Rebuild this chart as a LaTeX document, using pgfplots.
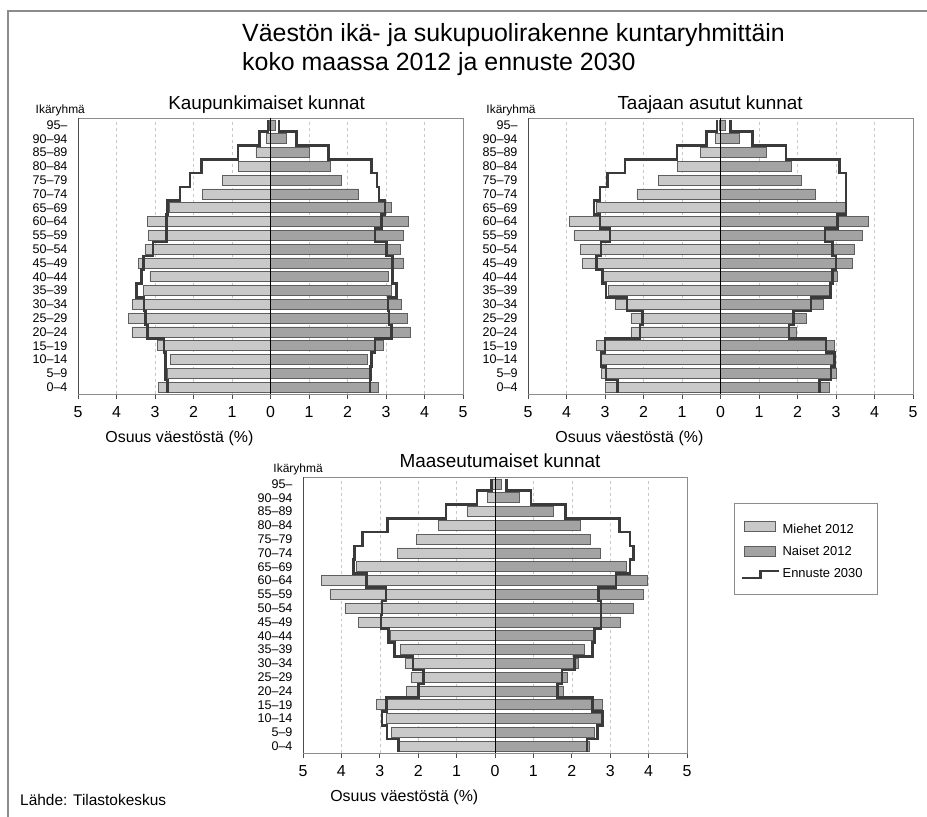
\documentclass[border=0pt]{standalone}
\usepackage{fontspec}
\setmainfont{Liberation Sans}
\usepackage{pgfplots}
\pgfplotsset{compat=1.18}
\usepackage{pgfplotstable}

\definecolor{mencol}{HTML}{C9C9C9}
\definecolor{womcol}{HTML}{A3A3A3}
\definecolor{barline}{HTML}{5E5E5E}
\definecolor{linecol}{HTML}{3A3A3A}
\definecolor{framecol}{HTML}{8C8C8C}

% i = age group index, m = men 2012, f = women 2012, em/ef = forecast 2030, lo = lower edge of the step
\pgfplotstableread{
i m f em ef lo
0 2.92 2.79 2.67 2.58 -0.40
1 2.68 2.58 2.72 2.60 0.5
2 2.61 2.51 2.72 2.62 1.5
3 2.94 2.92 2.77 2.71 2.5
4 3.60 3.62 3.20 3.14 3.5
5 3.69 3.55 3.24 3.08 4.5
6 3.59 3.40 3.29 3.05 5.5
7 3.30 3.14 3.48 3.27 6.5
8 3.13 3.05 3.35 3.17 7.5
9 3.43 3.46 3.30 3.17 8.5
10 3.26 3.38 3.05 3.01 9.5
11 3.17 3.46 2.70 2.71 10.5
12 3.20 3.57 2.70 2.88 11.5
13 2.62 3.14 2.67 2.97 12.5
14 1.76 2.28 2.35 2.82 13.5
15 1.25 1.84 2.09 2.77 14.5
16 0.84 1.56 1.79 2.62 15.5
17 0.38 1.00 0.84 1.50 16.5
18 0.10 0.42 0.28 0.67 17.5
19 0.03 0.12 0.06 0.22 18.5
20 nan nan 0.06 0.22 19.35
}\dataA

\pgfplotstableread{
i m f em ef lo
0 3.00 2.83 2.67 2.57 -0.40
1 3.09 3.00 2.97 2.87 0.5
2 3.13 2.98 3.10 2.96 1.5
3 3.23 2.96 3.00 2.74 2.5
4 2.33 1.96 2.09 1.78 3.5
5 2.33 2.22 2.02 1.90 4.5
6 2.72 2.67 2.43 2.35 5.5
7 2.91 2.83 2.97 2.85 6.5
8 3.04 3.04 3.06 2.91 7.5
9 3.59 3.43 3.22 3.00 8.5
10 3.63 3.48 3.10 2.91 9.5
11 3.81 3.67 2.87 2.71 10.5
12 3.93 3.84 3.13 3.04 11.5
13 3.22 3.26 3.29 3.26 12.5
14 2.17 2.45 3.13 3.26 13.5
15 1.61 2.09 2.94 3.26 14.5
16 1.11 1.84 2.48 3.09 15.5
17 0.52 1.20 1.13 1.70 16.5
18 0.13 0.50 0.37 0.83 17.5
19 0.04 0.13 0.09 0.26 18.5
20 nan nan 0.09 0.26 19.35
}\dataB

\pgfplotstableread{
i m f em ef lo
0 2.53 2.46 2.51 2.40 -0.40
1 2.69 2.59 2.81 2.67 0.5
2 2.84 2.79 2.94 2.80 1.5
3 3.08 2.79 2.82 2.54 2.5
4 2.30 1.79 1.99 1.63 3.5
5 2.19 1.89 1.86 1.74 4.5
6 2.34 2.18 2.14 2.07 5.5
7 2.47 2.33 2.62 2.54 6.5
8 2.73 2.59 2.77 2.59 7.5
9 3.55 3.26 2.97 2.76 8.5
10 3.91 3.59 2.94 2.76 9.5
11 4.30 3.85 2.84 2.70 10.5
12 4.52 3.96 3.34 3.15 11.5
13 3.62 3.41 3.69 3.52 12.5
14 2.55 2.74 3.66 3.60 13.5
15 2.04 2.48 3.45 3.52 14.5
16 1.47 2.21 2.80 3.24 15.5
17 0.73 1.52 1.28 1.83 16.5
18 0.19 0.62 0.47 0.94 17.5
19 0.06 0.16 0.09 0.30 18.5
20 nan nan 0.09 0.30 19.35
}\dataC

\pgfplotsset{
  pyr/.style={
    scale only axis, width=385bp, height=276bp,
    xmin=-5, xmax=5, ymin=-0.5, ymax=19.5,
    xtick={-5,...,5}, xticklabels={5,4,3,2,1,0,1,2,3,4,5},
    ytick={0,...,19},
    yticklabels={0--4,5--9,10--14,15--19,20--24,25--29,30--34,35--39,40--44,45--49,50--54,55--59,60--64,65--69,70--74,75--79,80--84,85--89,90--94,95--},
    xtick pos=left, tick align=outside, major tick length=5bp,
    ytick style={draw=none},
    xtick style={draw=black!70, line width=0.8bp},
    xmajorgrids, major grid style={dashed, black!22, line width=0.5bp},
    axis line style={draw=framecol, line width=0.8bp},
    /pgf/number format/assume math mode=true,
    xticklabel style={font=\fontsize{16}{18}\selectfont, yshift=-4bp},
    yticklabel style={font=\fontsize{12.6}{14}\selectfont, xshift=-2bp},
    xlabel={Osuus väestöstä (\%)},
    xlabel style={at={(axis description cs:0.062,-0.16)}, anchor=west, font=\fontsize{16}{18}\selectfont},
    ylabel={Ikäryhmä},
    ylabel style={rotate=-90, anchor=west, font=\fontsize{12}{14}\selectfont},
    title style={anchor=base, yshift=-6pt, font=\fontsize{19}{22}\selectfont},
  },
  menbar/.style={xbar, bar width=0.72, bar shift=0pt, fill=mencol, draw=barline, line width=0.6bp},
  wombar/.style={xbar, bar width=0.72, bar shift=0pt, fill=womcol, draw=barline, line width=0.6bp},
  steps/.style={const plot mark right, linecol, line width=2.6bp, line join=miter},
}

\begin{document}
\begin{tikzpicture}
\useasboundingbox (0,0) rectangle (927bp,817bp);
\draw[framecol, line width=1.5bp] (8bp,0) -- (8bp,806bp) -- (927bp,806bp);
\node[anchor=base west, font=\fontsize{25}{29}\selectfont, inner sep=0] at (242bp,775bp) {Väestön ikä- ja sukupuolirakenne kuntaryhmittäin};
\node[anchor=base west, font=\fontsize{25}{29}\selectfont, inner sep=0] at (242bp,746bp) {koko maassa 2012 ja ennuste 2030};
\node[anchor=base west, font=\fontsize{15.5}{18}\selectfont, inner sep=0] at (20bp,12bp) {Lähde: Tilastokeskus};

% Panel 1
\begin{axis}[pyr, at={(78bp,423bp)}, anchor=south west,
  title={Kaupunkimaiset kunnat}, title style={at={(axis description cs:0.49,1.029)}},
  ylabel style={at={(axis description cs:-0.119,1.027)}}]
\addplot[menbar] table[x expr=-\thisrow{m}, y=i] {\dataA};
\addplot[wombar] table[x=f, y=i] {\dataA};
\addplot[steps] table[x expr=-\thisrow{em}, y=lo] {\dataA};
\addplot[steps] table[x=ef, y=lo] {\dataA};
\addplot[black, line width=0.8bp] coordinates {(0,-0.5) (0,19.5)};
\draw[black!70, line width=0.9bp] (rel axis cs:0,1) -- (rel axis cs:0,0) -- (rel axis cs:1,0);
\end{axis}

% Panel 2
\begin{axis}[pyr, at={(528bp,423bp)}, anchor=south west,
  title={Taajaan asutut kunnat}, title style={at={(axis description cs:0.473,1.029)}},
  ylabel style={at={(axis description cs:-0.117,1.027)}}]
\addplot[menbar] table[x expr=-\thisrow{m}, y=i] {\dataB};
\addplot[wombar] table[x=f, y=i] {\dataB};
\addplot[steps] table[x expr=-\thisrow{em}, y=lo] {\dataB};
\addplot[steps] table[x=ef, y=lo] {\dataB};
\addplot[black, line width=0.8bp] coordinates {(0,-0.5) (0,19.5)};
\draw[black!70, line width=0.9bp] (rel axis cs:0,1) -- (rel axis cs:0,0) -- (rel axis cs:1,0);
\end{axis}

% Panel 3
\begin{axis}[pyr, at={(303bp,64bp)}, anchor=south west, width=384bp,
  title={Maaseutumaiset kunnat}, title style={at={(axis description cs:0.513,1.033)}},
  ylabel style={at={(axis description cs:-0.086,1.028)}},
  legend style={at={(axis description cs:1.122,0.906)}, anchor=north west,
    draw=framecol, line width=0.8bp, font=\fontsize{13}{15}\selectfont,
    inner xsep=7bp, inner ysep=13bp, row sep=7.5bp, cells={anchor=west},
    /tikz/every even column/.append style={column sep=8bp}},
  legend cell align=left]
\addplot[menbar, legend image code/.code={\path[draw=none,fill=none] (-2bp,0) -- (35bp,0); \draw[fill=mencol, draw=barline, line width=0.6bp] (0bp,-5bp) rectangle (31bp,5bp);}] table[x expr=-\thisrow{m}, y=i] {\dataC};
\addlegendentry{\rule{0pt}{15bp}\makebox[86bp][l]{Miehet 2012}}
\addplot[wombar, legend image code/.code={\path[draw=none,fill=none] (-2bp,0) -- (35bp,0); \draw[fill=womcol, draw=barline, line width=0.6bp] (0bp,-5bp) rectangle (31bp,5bp);}] table[x=f, y=i] {\dataC};
\addlegendentry{\makebox[86bp][l]{Naiset 2012}}
\addplot[steps, legend image code/.code={\draw[linecol, line width=2.4bp] (-2bp,-4bp) -- (16bp,-4bp) -- (16bp,3bp) -- (35bp,3bp);}] table[x expr=-\thisrow{em}, y=lo] {\dataC};
\addlegendentry{\makebox[86bp][l]{Ennuste 2030}}
\addplot[steps, forget plot] table[x=ef, y=lo] {\dataC};
\addplot[black, line width=0.8bp, forget plot] coordinates {(0,-0.5) (0,19.5)};
\draw[black!70, line width=0.9bp] (rel axis cs:0,1) -- (rel axis cs:0,0) -- (rel axis cs:1,0);
\end{axis}
\end{tikzpicture}
\end{document}
